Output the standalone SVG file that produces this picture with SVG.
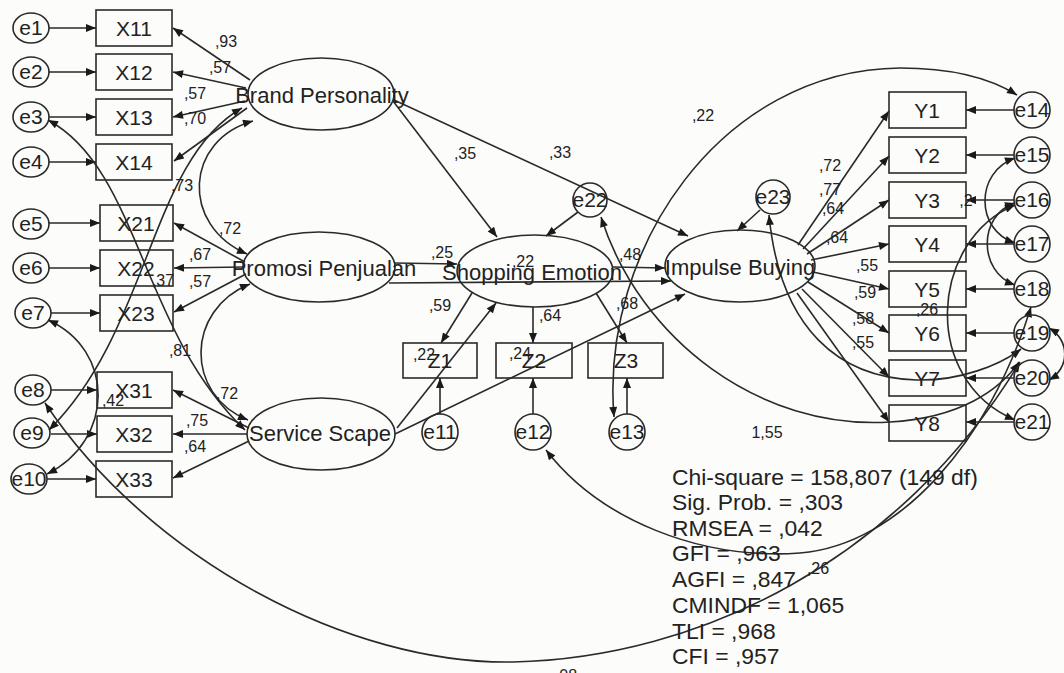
<svg xmlns="http://www.w3.org/2000/svg" width="1064" height="673" viewBox="0 0 1064 673">
<style>
.bg{fill:#fcfcfa}
.n{fill:none;stroke:#2a2a2a;stroke-width:1.6}
.t{font-family:"Liberation Sans",Arial,sans-serif;font-size:21px;fill:#222;text-anchor:middle}
.lt{font-family:"Liberation Sans",Arial,sans-serif;font-size:22px;fill:#222;text-anchor:middle}
.l{font-family:"Liberation Sans",Arial,sans-serif;font-size:16px;fill:#222;text-anchor:middle}
.s{font-family:"Liberation Sans",Arial,sans-serif;font-size:22px;fill:#222}
.c path{fill:none;stroke:#2a2a2a;stroke-width:1.6}
.a{marker-end:url(#ah)}
.d{marker-start:url(#ah);marker-end:url(#ah)}
</style>
<defs>
<marker id="ah" viewBox="0 0 10 8" refX="10" refY="4" markerWidth="11" markerHeight="8" markerUnits="userSpaceOnUse" orient="auto-start-reverse"><path d="M0,0 L10,4 L0,8 z" fill="#1a1a1a"/></marker>
</defs>
<rect class="bg" x="0" y="0" width="1064" height="673"/>

<g id="connectors" class="c">
<path class="a" d="M49,28 H96"/>
<path class="a" d="M49,72 H96"/>
<path class="a" d="M49,117 H96"/>
<path class="a" d="M49,162 H96"/>
<path class="a" d="M49,223 H100"/>
<path class="a" d="M49,268 H100"/>
<path class="a" d="M51,313 H100"/>
<path class="a" d="M51,390 H97"/>
<path class="a" d="M51,434 H97"/>
<path class="a" d="M47,479 H96"/>
<path class="a" d="M250,80 L173,28"/>
<path class="a" d="M246,88 L173,72"/>
<path class="a" d="M245,101 L173,117"/>
<path class="a" d="M247,108 L174,161"/>
<path class="a" d="M245,262 L174,223"/>
<path class="a" d="M244,267 L174,268"/>
<path class="a" d="M246,274 L174,312"/>
<path class="a" d="M249,428 L173,390"/>
<path class="a" d="M247,434 L173,434"/>
<path class="a" d="M249,441 L173,478"/>
<path class="a" d="M393,101 L497,237"/>
<path class="a" d="M394,100 L688,236"/>
<path class="a" d="M394,263 L457,264"/>
<path class="a" d="M389,283 L671,281"/>
<path class="a" d="M613,267 L665,268"/>
<path class="a" d="M397,428 L496,303"/>
<path class="a" d="M395,434 L685,294"/>
<path class="a" d="M472,293 L441,343"/>
<path class="a" d="M533,307 L533,343"/>
<path class="a" d="M596,293 L627,343"/>
<path class="a" d="M440,414 L440,378"/>
<path class="a" d="M533,414 L533,378"/>
<path class="a" d="M627,414 L627,378"/>
<path class="a" d="M578,212 L546,236"/>
<path class="a" d="M760,210 L737,231"/>
<path class="a" d="M798,245 L889,111"/>
<path class="a" d="M803,249 L889,156"/>
<path class="a" d="M807,254 L889,200"/>
<path class="a" d="M811,260 L889,244"/>
<path class="a" d="M813,272 L889,289"/>
<path class="a" d="M808,282 L889,333"/>
<path class="a" d="M802,289 L889,377"/>
<path class="a" d="M797,293 L889,422"/>
<path class="a" d="M1014,110 H966"/>
<path class="a" d="M1014,155 H966"/>
<path class="a" d="M1014,200 H966"/>
<path class="a" d="M1014,244 H966"/>
<path class="a" d="M1014,289 H966"/>
<path class="a" d="M1014,333 H966"/>
<path class="a" d="M1014,378 H966"/>
<path class="a" d="M1014,422 H966"/>
<path class="d" d="M253,121 C185,140 180,225 247,254"/>
<path class="d" d="M250,284 C185,310 185,395 248,420"/>
<path class="d" d="M48,120 C140,170 140,330 245,430"/>
<path class="d" d="M242,108 C150,160 150,330 49,430"/>
<path class="d" d="M48,320 C115,350 115,440 47,474"/>
<path class="d" d="M45,403 C150,560 350,665 513,662 C700,658 900,560 1020,362"/>
<path class="d" d="M601,217 C640,340 760,430 890,422 C960,418 1000,390 1019,362"/>
<path class="d" d="M769,215 C780,330 840,378 917,380 C960,381 1000,365 1021,349"/>
<path class="d" d="M614,417 C600,250 720,70 900,68 C950,68 990,78 1017,95"/>
<path class="d" d="M1015,158 C975,172 975,230 1015,243"/>
<path class="d" d="M1015,203 C978,215 978,272 1015,285"/>
<path class="d" d="M1015,205 C930,240 920,380 1015,420"/>
<path class="d" d="M1049,328 C1070,340 1070,368 1049,380"/>
<path class="d" d="M546,450 C600,520 700,560 800,553 C900,545 990,440 1031,307"/>
</g>

<g id="e1"><ellipse class="n" cx="31" cy="28" rx="18" ry="15"/><text class="t" x="31" y="35">e1</text></g>
<g id="e2"><ellipse class="n" cx="31" cy="72" rx="18" ry="15"/><text class="t" x="31" y="79">e2</text></g>
<g id="e3"><ellipse class="n" cx="31" cy="117" rx="18" ry="15"/><text class="t" x="31" y="124">e3</text></g>
<g id="e4"><ellipse class="n" cx="31" cy="162" rx="18" ry="15"/><text class="t" x="31" y="169">e4</text></g>
<g id="e5"><ellipse class="n" cx="31" cy="224" rx="18" ry="15"/><text class="t" x="31" y="231">e5</text></g>
<g id="e6"><ellipse class="n" cx="31" cy="268" rx="18" ry="15"/><text class="t" x="31" y="275">e6</text></g>
<g id="e7"><ellipse class="n" cx="33" cy="313" rx="18" ry="15"/><text class="t" x="33" y="320">e7</text></g>
<g id="e8"><ellipse class="n" cx="33" cy="390" rx="18" ry="15"/><text class="t" x="33" y="397">e8</text></g>
<g id="e9"><ellipse class="n" cx="32" cy="433" rx="18" ry="15"/><text class="t" x="32" y="440">e9</text></g>
<g id="e10"><ellipse class="n" cx="29" cy="479" rx="18" ry="15"/><text class="t" x="29" y="486">e10</text></g>

<g id="X11"><rect class="n" x="96" y="10" width="76" height="36"/><text class="t" x="134" y="36">X11</text></g>
<g id="X12"><rect class="n" x="96" y="54" width="76" height="36"/><text class="t" x="134" y="80">X12</text></g>
<g id="X13"><rect class="n" x="96" y="99" width="76" height="36"/><text class="t" x="134" y="125">X13</text></g>
<g id="X14"><rect class="n" x="96" y="144" width="76" height="36"/><text class="t" x="134" y="170">X14</text></g>
<g id="X21"><rect class="n" x="100" y="205" width="73" height="36"/><text class="t" x="136" y="231">X21</text></g>
<g id="X22"><rect class="n" x="100" y="250" width="73" height="36"/><text class="t" x="136" y="276">X22</text></g>
<g id="X23"><rect class="n" x="100" y="295" width="73" height="36"/><text class="t" x="136" y="321">X23</text></g>
<g id="X31"><rect class="n" x="97" y="372" width="75" height="36"/><text class="t" x="134" y="398">X31</text></g>
<g id="X32"><rect class="n" x="97" y="416" width="75" height="36"/><text class="t" x="134" y="442">X32</text></g>
<g id="X33"><rect class="n" x="96" y="461" width="76" height="36"/><text class="t" x="134" y="487">X33</text></g>

<g id="BrandPersonality"><ellipse class="n" cx="321" cy="94" rx="73" ry="36"/><text class="lt" x="322" y="103">Brand Personality</text></g>
<g id="PromosiPenjualan"><ellipse class="n" cx="319" cy="267" rx="76" ry="35"/><text class="lt" x="324" y="276">Promosi Penjualan</text></g>
<g id="ServiceScape"><ellipse class="n" cx="321" cy="434" rx="74" ry="36"/><text class="lt" x="320" y="441">Service Scape</text></g>
<g id="ShoppingEmotion"><ellipse class="n" cx="535" cy="271" rx="78" ry="36"/><text class="lt" x="532" y="280">Shopping Emotion</text></g>
<g id="ImpulseBuying"><ellipse class="n" cx="740" cy="266" rx="75" ry="36"/><text class="lt" x="740" y="275">Impulse Buying</text></g>

<g id="Z1"><rect class="n" x="403" y="343" width="74" height="35"/><text class="t" x="440" y="368">Z1</text></g>
<g id="Z2"><rect class="n" x="496" y="343" width="76" height="35"/><text class="t" x="534" y="368">Z2</text></g>
<g id="Z3"><rect class="n" x="588" y="343" width="75" height="35"/><text class="t" x="626" y="368">Z3</text></g>
<g id="e11"><circle class="n" cx="440" cy="432" r="18"/><text class="t" x="440" y="439">e11</text></g>
<g id="e12"><circle class="n" cx="533" cy="432" r="18"/><text class="t" x="533" y="439">e12</text></g>
<g id="e13"><circle class="n" cx="627" cy="432" r="18"/><text class="t" x="627" y="439">e13</text></g>
<g id="e22"><circle class="n" cx="590" cy="200" r="17"/><text class="t" x="590" y="207">e22</text></g>
<g id="e23"><circle class="n" cx="773" cy="197" r="17"/><text class="t" x="773" y="204">e23</text></g>

<g id="Y1"><rect class="n" x="889" y="92" width="77" height="36"/><text class="t" x="927" y="118">Y1</text></g>
<g id="Y2"><rect class="n" x="889" y="137" width="77" height="36"/><text class="t" x="927" y="163">Y2</text></g>
<g id="Y3"><rect class="n" x="889" y="182" width="77" height="36"/><text class="t" x="927" y="208">Y3</text></g>
<g id="Y4"><rect class="n" x="889" y="226" width="77" height="36"/><text class="t" x="927" y="252">Y4</text></g>
<g id="Y5"><rect class="n" x="889" y="271" width="77" height="36"/><text class="t" x="927" y="297">Y5</text></g>
<g id="Y6"><rect class="n" x="889" y="315" width="77" height="36"/><text class="t" x="927" y="341">Y6</text></g>
<g id="Y7"><rect class="n" x="889" y="360" width="77" height="36"/><text class="t" x="927" y="386">Y7</text></g>
<g id="Y8"><rect class="n" x="889" y="405" width="77" height="36"/><text class="t" x="927" y="431">Y8</text></g>

<g id="e14"><circle class="n" cx="1032" cy="110" r="18"/><text class="t" x="1032" y="117">e14</text></g>
<g id="e15"><circle class="n" cx="1032" cy="155" r="18"/><text class="t" x="1032" y="162">e15</text></g>
<g id="e16"><circle class="n" cx="1032" cy="200" r="18"/><text class="t" x="1032" y="207">e16</text></g>
<g id="e17"><circle class="n" cx="1032" cy="244" r="18"/><text class="t" x="1032" y="251">e17</text></g>
<g id="e18"><circle class="n" cx="1032" cy="289" r="18"/><text class="t" x="1032" y="296">e18</text></g>
<g id="e19"><circle class="n" cx="1032" cy="333" r="18"/><text class="t" x="1032" y="340">e19</text></g>
<g id="e20"><circle class="n" cx="1032" cy="378" r="18"/><text class="t" x="1032" y="385">e20</text></g>
<g id="e21"><circle class="n" cx="1032" cy="422" r="18"/><text class="t" x="1032" y="429">e21</text></g>

<g id="labels">
<text class="l" x="226" y="47">,93</text>
<text class="l" x="220" y="73">,57</text>
<text class="l" x="195" y="99">,57</text>
<text class="l" x="195" y="124">,70</text>
<text class="l" x="182" y="191">,73</text>
<text class="l" x="230" y="234">,72</text>
<text class="l" x="200" y="260">,67</text>
<text class="l" x="163" y="286">,37</text>
<text class="l" x="200" y="287">,57</text>
<text class="l" x="180" y="356">,81</text>
<text class="l" x="227" y="399">,72</text>
<text class="l" x="113" y="406">,42</text>
<text class="l" x="197" y="426">,75</text>
<text class="l" x="195" y="452">,64</text>
<text class="l" x="465" y="159">,35</text>
<text class="l" x="560" y="158">,33</text>
<text class="l" x="703" y="121">,22</text>
<text class="l" x="442" y="258">,25</text>
<text class="l" x="523" y="267">,22</text>
<text class="l" x="630" y="260">,48</text>
<text class="l" x="440" y="311">,59</text>
<text class="l" x="550" y="321">,64</text>
<text class="l" x="627" y="309">,68</text>
<text class="l" x="424" y="360">,22</text>
<text class="l" x="520" y="359">,24</text>
<text class="l" x="830" y="171">,72</text>
<text class="l" x="830" y="195">,77</text>
<text class="l" x="833" y="214">,64</text>
<text class="l" x="837" y="243">,64</text>
<text class="l" x="867" y="271">,55</text>
<text class="l" x="865" y="298">,59</text>
<text class="l" x="863" y="324">,58</text>
<text class="l" x="863" y="348">,55</text>
<text class="l" x="966" y="206">,2</text>
<text class="l" x="927" y="315">,26</text>
<text class="l" x="767" y="438">1,55</text>
<text class="l" x="818" y="574">,26</text>
<text class="l" x="566" y="681">,08</text>
</g>

<g id="fit" transform="translate(672,0) scale(1.04,1)">
<text class="s" x="0" y="485">Chi-square = 158,807 (149 df)</text>
<text class="s" x="0" y="510">Sig. Prob. = ,303</text>
<text class="s" x="0" y="536">RMSEA = ,042</text>
<text class="s" x="0" y="561">GFI = ,963</text>
<text class="s" x="0" y="587">AGFI = ,847</text>
<text class="s" x="0" y="613">CMINDF = 1,065</text>
<text class="s" x="0" y="639">TLI = ,968</text>
<text class="s" x="0" y="664">CFI = ,957</text>
</g>
</svg>
